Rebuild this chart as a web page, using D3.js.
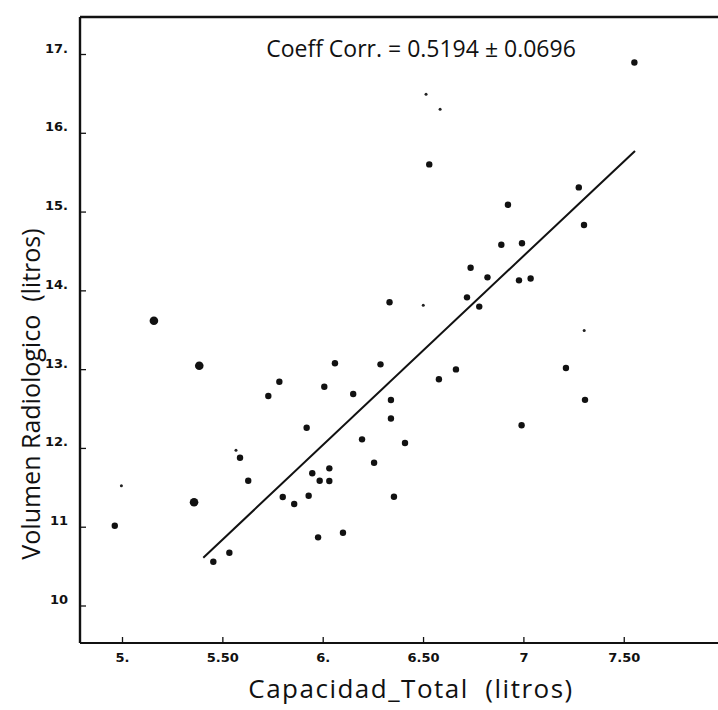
<!DOCTYPE html>
<html>
<head>
<meta charset="utf-8">
<script src="https://cdn.jsdelivr.net/npm/d3@7"></script>
<style>
  html, body { margin: 0; padding: 0; background: #fff; }
  svg { display: block; }
  text { fill: #111; }
</style>
</head>
<body>
<svg id="chart" width="718" height="710"></svg>
<script>
// Capacidad total vs volumen radiologico (litros)
const xTicks = [5, 5.5, 6, 6.5, 7, 7.5];
const xTickLabels = ["5.", "5.50", "6.", "6.50", "7", "7.50"];
const yTicks = [10, 11, 12, 13, 14, 15, 16, 17];
const yTickLabels = ["10", "11", "12.", "13.", "14.", "15.", "16.", "17."];

// [capacidad total, volumen radiologico]
const subjects = [
  [7.553, 16.893], [6.531, 15.599], [7.276, 15.307], [6.923, 15.086],
  [7.302, 14.829], [6.890, 14.579], [6.993, 14.597], [6.737, 14.287],
  [6.821, 14.165], [6.978, 14.127], [7.036, 14.150], [6.719, 13.911],
  [6.780, 13.794], [6.333, 13.849], [6.061, 13.074], [6.288, 13.061],
  [6.664, 12.997], [6.579, 12.871], [7.212, 13.014], [5.784, 12.840],
  [5.729, 12.659], [6.008, 12.777], [6.152, 12.684], [6.340, 12.608],
  [6.340, 12.373], [7.307, 12.610], [6.991, 12.288], [5.920, 12.256],
  [6.196, 12.109], [6.410, 12.062], [5.588, 11.876], [6.256, 11.812],
  [6.033, 11.741], [5.948, 11.678], [5.985, 11.584], [6.033, 11.580],
  [5.629, 11.584], [5.801, 11.377], [5.858, 11.288], [5.930, 11.393],
  [6.355, 11.381], [4.964, 11.013], [5.977, 10.865], [6.101, 10.924],
  [5.535, 10.670], [5.455, 10.556]
];
// heavier dots
const heavySubjects = [[5.159, 13.614], [5.385, 13.043], [5.359, 11.310]];
// faint, lightly marked entries
const faintSubjects = [
  [6.501, 13.810], [7.303, 13.490], [5.568, 11.97], [6.515, 16.49],
  [6.585, 16.30], [4.997, 11.52]
];
// regression line end points
const fitLine = [[5.405, 10.607], [7.556, 15.77]];

const corrText = "Coeff Corr. = 0.5194 \u00b1 0.0696";
const xTitle = "Capacidad_Total  (litros)";
const yTitle = "Volumen Radiologico  (litros)";

const svg = d3.select("#chart");
const frameLeft = 80, frameTop = 17, frameBottom = 643, frameRight = 718;

const x = d3.scaleLinear().domain([5, 7.5]).range([122, 623.75]);
const y = d3.scaleLinear().domain([10, 17]).range([605.5, 54]);

// frame: left, top and bottom rules, open on the right
const frame = svg.append("g").attr("stroke", "#111").attr("fill", "none");
frame.append("line").attr("x1", frameLeft).attr("x2", frameLeft).attr("y1", frameTop).attr("y2", frameBottom).attr("stroke-width", 2.4);
frame.append("line").attr("x1", frameLeft).attr("x2", frameRight).attr("y1", frameTop).attr("y2", frameTop).attr("stroke-width", 2.6);
frame.append("line").attr("x1", frameLeft).attr("x2", frameRight).attr("y1", frameBottom).attr("y2", frameBottom).attr("stroke-width", 2);

const yAxis = d3.axisLeft(y)
  .tickValues(yTicks)
  .tickFormat((d, i) => yTickLabels[i])
  .tickSizeInner(-6).tickSizeOuter(0).tickPadding(12);
const yg = svg.append("g").attr("transform", `translate(${frameLeft},0)`).call(yAxis);
yg.select(".domain").remove();
yg.selectAll(".tick line").attr("stroke", "#111").attr("stroke-width", 1.3);
yg.selectAll(".tick text")
  .style("font-family", "'DejaVu Sans', sans-serif")
  .style("font-size", "13px")
  .style("font-weight", "600")
  .attr("dy", "-0.15em");

const xAxis = d3.axisBottom(x)
  .tickValues(xTicks)
  .tickFormat((d, i) => xTickLabels[i])
  .tickSizeInner(-6).tickSizeOuter(0).tickPadding(10);
const xg = svg.append("g").attr("transform", `translate(0,${frameBottom})`).call(xAxis);
xg.select(".domain").remove();
xg.selectAll(".tick line").attr("stroke", "#111").attr("stroke-width", 1.3);
xg.selectAll(".tick text")
  .style("font-family", "'DejaVu Sans', sans-serif")
  .style("font-size", "13px")
  .style("font-weight", "600");

// regression line
svg.append("line")
  .attr("x1", x(fitLine[0][0])).attr("y1", y(fitLine[0][1]))
  .attr("x2", x(fitLine[1][0])).attr("y2", y(fitLine[1][1]))
  .attr("stroke", "#111").attr("stroke-width", 2);

// points
svg.append("g").selectAll("circle").data(subjects).join("circle")
  .attr("cx", d => x(d[0])).attr("cy", d => y(d[1])).attr("r", 3.2).attr("fill", "#111");
svg.append("g").selectAll("circle").data(heavySubjects).join("circle")
  .attr("cx", d => x(d[0])).attr("cy", d => y(d[1])).attr("r", 4.3).attr("fill", "#111");
svg.append("g").selectAll("circle").data(faintSubjects).join("circle")
  .attr("cx", d => x(d[0])).attr("cy", d => y(d[1])).attr("r", 1.5).attr("fill", "#222");

// correlation annotation
svg.append("text")
  .attr("x", 421).attr("y", 57)
  .attr("text-anchor", "middle")
  .style("font-family", "'Open Sans', sans-serif")
  .style("font-size", "23px")
  .style("font-weight", "400")
  .text(corrText);

// axis titles
svg.append("text")
  .attr("x", 411).attr("y", 698)
  .attr("text-anchor", "middle")
  .style("font-family", "'Open Sans', sans-serif")
  .style("font-size", "26px")
  .style("letter-spacing", "1.5px")
  .style("white-space", "pre")
  .text(xTitle);

svg.append("text")
  .attr("transform", "translate(40,394) rotate(-90)")
  .attr("text-anchor", "middle")
  .style("font-family", "'Open Sans', sans-serif")
  .style("font-size", "25px")
  .style("white-space", "pre")
  .text(yTitle);
</script>
</body>
</html>
